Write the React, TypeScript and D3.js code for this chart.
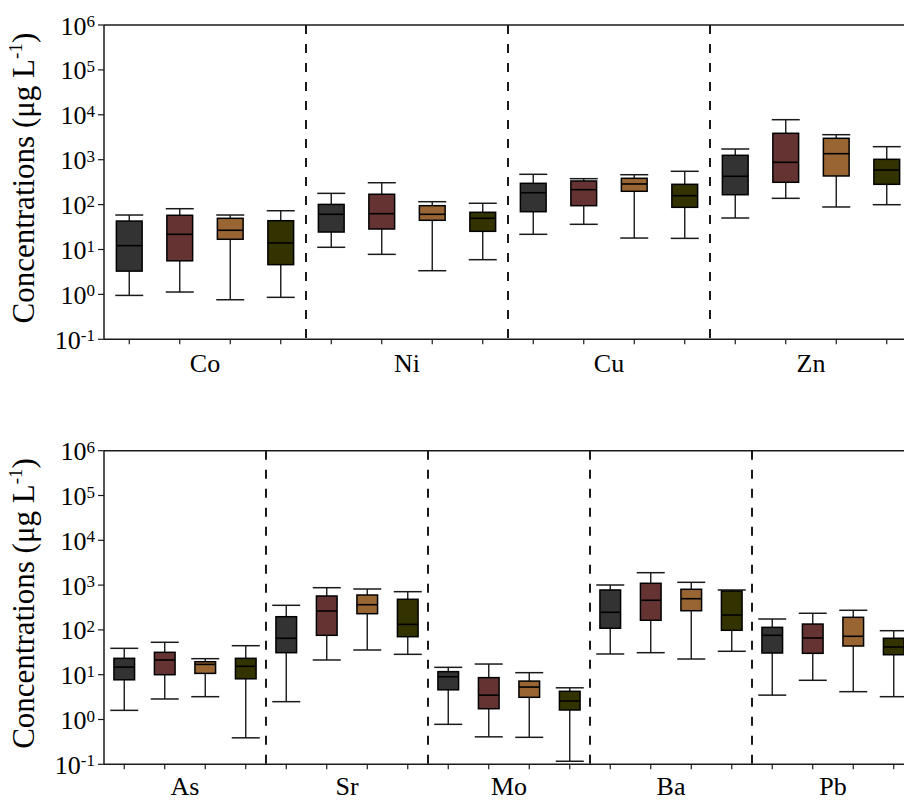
import React from 'react';
import * as d3 from 'd3';

// ---- data: [min, q1, median, q3, max] per series ----
const seriesNames = ['S1', 'S2', 'S3', 'S4'];
const seriesColors = ['#333333', '#663333', '#996633', '#333300'];

const topElements = ['Co', 'Ni', 'Cu', 'Zn'];
const bottomElements = ['As', 'Sr', 'Mo', 'Ba', 'Pb'];

const Co = [
  [0.95, 3.3, 12.2, 43, 58.6],
  [1.13, 5.6, 21.8, 57.8, 81],
  [0.76, 16.9, 26.8, 49.5, 58.6],
  [0.86, 4.6, 14, 43.8, 73],
];
const Ni = [
  [11.2, 24.5, 60.8, 101, 178],
  [7.8, 28.6, 62.7, 170, 307],
  [3.37, 44.7, 60.8, 94.6, 116],
  [5.93, 25.4, 49.5, 67.4, 107],
];
const Cu = [
  [21.8, 69.5, 184, 298, 473],
  [36.4, 94.6, 215, 336, 378],
  [18, 198, 288, 385, 463],
  [17.7, 87, 158, 283, 552],
];
const Zn = [
  [50.3, 166, 427, 1253, 1730],
  [138, 314, 875, 3873, 7780],
  [88.5, 434, 1361, 2998, 3606],
  [99.5, 283, 590, 1020, 1950],
];
const As = [
  [1.6, 7.7, 14.8, 23.2, 38.8],
  [2.87, 10, 21.3, 31.6, 52.9],
  [3.23, 10.7, 17, 19.5, 22.8],
  [0.39, 8.1, 15.4, 23.2, 44.4],
];
const Sr = [
  [2.5, 31, 65, 197, 354],
  [21.3, 75.7, 264, 571, 875],
  [35.6, 230, 365, 601, 818],
  [28.5, 70.5, 133, 482, 713],
];
const Mo = [
  [0.78, 4.6, 9.0, 11.7, 14.6],
  [0.41, 1.74, 3.5, 8.6, 17.3],
  [0.4, 3.13, 5.3, 7.2, 11.1],
  [0.117, 1.63, 2.59, 4.26, 5.1],
];
const Ba = [
  [29, 109, 247, 778, 1005],
  [31, 164, 458, 1097, 1892],
  [22.4, 268, 497, 806, 1154],
  [33.3, 98, 215, 738, 778],
];
const Pb = [
  [3.5, 30.5, 75.7, 114, 175],
  [7.5, 30, 66, 135, 235],
  [4.18, 43.7, 72, 191, 274],
  [3.23, 27.9, 41.5, 65, 96],
];

const topData = [Co, Ni, Cu, Zn];
const bottomData = [As, Sr, Mo, Ba, Pb];

const yTickExponents = [-1, 0, 1, 2, 3, 4, 5, 6];

const FONT = '"Liberation Serif", "Times New Roman", serif';
const INK = '#1a1a1a';

type PanelProps = {
  elements: string[];
  data: number[][][];
  left: number;
  top: number;
  bottom: number;
  groupWidth: number;
  labelBaseline: number;
};

function Panel({ elements, data, left, top, bottom, groupWidth, labelBaseline }: PanelProps) {
  const right = left + groupWidth * elements.length;
  const y = d3.scaleLog().domain([0.1, 1e6]).range([bottom, top]);
  const xg = d3.scaleBand<string>().domain(elements).range([left, right]).padding(0);
  const xs = d3
    .scaleBand<string>()
    .domain(seriesNames)
    .range([0, xg.bandwidth()])
    .padding(0);
  const boxW = xs.bandwidth() * 0.51;
  const capW = 28;
  const midY = (top + bottom) / 2 - 4;

  return (
    <g>
      {/* dividers */}
      {elements.slice(1).map((el) => (
        <line
          key={'d' + el}
          x1={xg(el)!}
          x2={xg(el)!}
          y1={top}
          y2={bottom}
          stroke={INK}
          strokeWidth={2}
          strokeDasharray="9 10"
        />
      ))}
      {/* boxes */}
      {elements.map((el, gi) =>
        seriesNames.map((s, si) => {
          const [mn, q1, md, q3, mx] = data[gi][si];
          const cx = xg(el)! + xs(s)! + xs.bandwidth() / 2;
          return (
            <g key={el + s}>
              <line x1={cx} x2={cx} y1={y(mx)} y2={y(q3)} stroke={INK} strokeWidth={1.4} />
              <line x1={cx} x2={cx} y1={y(q1)} y2={y(mn)} stroke={INK} strokeWidth={1.4} />
              <line x1={cx - capW / 2} x2={cx + capW / 2} y1={y(mx)} y2={y(mx)} stroke={INK} strokeWidth={1.5} />
              <line x1={cx - capW / 2} x2={cx + capW / 2} y1={y(mn)} y2={y(mn)} stroke={INK} strokeWidth={1.5} />
              <rect
                x={cx - boxW / 2}
                y={y(q3)}
                width={boxW}
                height={y(q1) - y(q3)}
                fill={seriesColors[si]}
                stroke="#000"
                strokeWidth={1.5}
              />
              <line x1={cx - boxW / 2} x2={cx + boxW / 2} y1={y(md)} y2={y(md)} stroke="#000" strokeWidth={1.6} />
              {/* x tick */}
              <line x1={cx} x2={cx} y1={bottom} y2={bottom + 5} stroke={INK} strokeWidth={1.2} />
            </g>
          );
        })
      )}
      {/* spines */}
      <line x1={left} x2={right} y1={top} y2={top} stroke={INK} strokeWidth={1.5} />
      <line x1={left} x2={right} y1={bottom} y2={bottom} stroke={INK} strokeWidth={1.5} />
      <line x1={left} x2={left} y1={top} y2={bottom} stroke={INK} strokeWidth={1.5} />
      <line x1={right} x2={right} y1={top} y2={bottom} stroke={INK} strokeWidth={1.5} />
      {/* y ticks */}
      {yTickExponents.map((e) => {
        const ty = y(Math.pow(10, e));
        return (
          <g key={'yt' + e}>
            <line x1={left - 6} x2={left} y1={ty} y2={ty} stroke={INK} strokeWidth={1.2} />
            <text x={left - 9} y={ty + 9.5} textAnchor="end" fontFamily={FONT} fontSize={26} fill="#000">
              10
              <tspan fontSize={17} dy={-7.5}>
                {e < 0 ? '-' + Math.abs(e) : String(e)}
              </tspan>
            </text>
          </g>
        );
      })}
      {/* x labels */}
      {elements.map((el) => (
        <text
          key={'xl' + el}
          x={xg(el)! + xg.bandwidth() / 2}
          y={labelBaseline}
          textAnchor="middle"
          fontFamily={FONT}
          fontSize={26}
          fill="#000"
        >
          {el}
        </text>
      ))}
      {/* y title */}
      <text
        transform={`translate(33.5, ${midY}) rotate(-90)`}
        textAnchor="middle"
        fontFamily={FONT}
        fontSize={31}
        fill="#000"
      >
        Concentrations (μg L
        <tspan fontSize={19} dy={-12}>-1</tspan>
        <tspan dy={12}>)</tspan>
      </text>
    </g>
  );
}

export default function App() {
  return (
    <svg
      width={904}
      height={801}
      style={{ position: 'absolute', left: 0, top: 0, background: '#fff' }}
      overflow="hidden"
    >
      <rect x={0} y={0} width={904} height={801} fill="#fff" />
      <Panel
        elements={topElements}
        data={topData}
        left={104}
        top={25}
        bottom={339.3}
        groupWidth={202}
        labelBaseline={372}
      />
      <Panel
        elements={bottomElements}
        data={bottomData}
        left={104}
        top={450.7}
        bottom={764.3}
        groupWidth={162}
        labelBaseline={795}
      />
    </svg>
  );
}
